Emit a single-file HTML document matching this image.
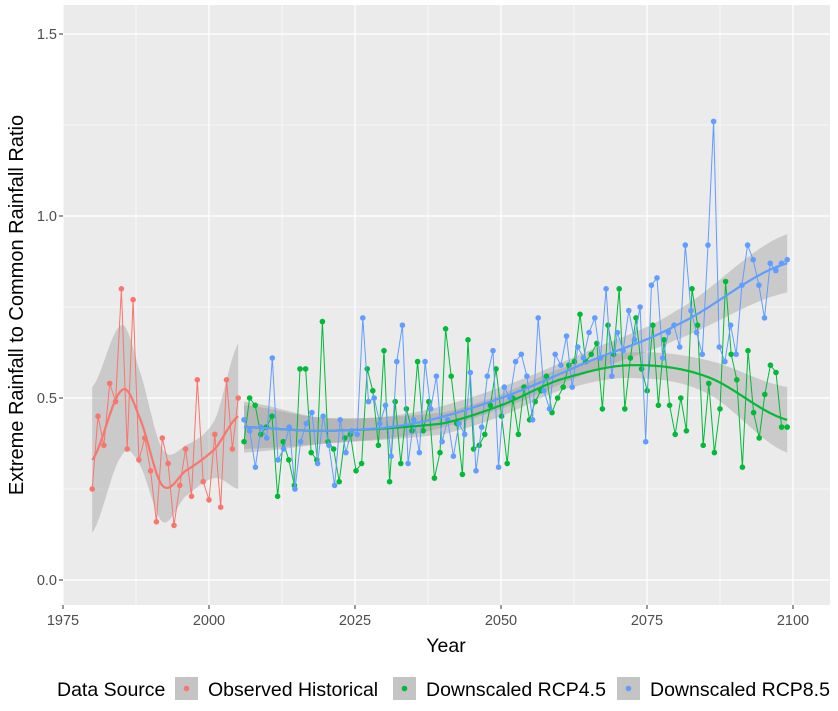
<!DOCTYPE html>
<html><head><meta charset="utf-8"><style>
body{margin:0;background:#fff;font-family:"Liberation Sans",Arial,sans-serif}
</style></head><body>
<svg id="s" width="838" height="706" xmlns="http://www.w3.org/2000/svg" font-family="Liberation Sans, Arial, sans-serif"></svg>
<script>
const S=document.getElementById('s');let h='';
const L=63,R=830,T=5,B=605;
const X=y=>63+(y-1975)*5.84, Y=v=>580-v*364;
h+=`<rect x="${L}" y="${T}" width="${R-L}" height="${B-T}" fill="#ebebeb"/>`;
for(let v=0.25;v<1.6;v+=0.5)h+=`<line x1="${L}" x2="${R}" y1="${Y(v)}" y2="${Y(v)}" stroke="#fff" stroke-width="0.6"/>`;
for(let y=1987.5;y<2100;y+=25)h+=`<line y1="${T}" y2="${B}" x1="${X(y)}" x2="${X(y)}" stroke="#fff" stroke-width="0.6"/>`;
for(let v=0;v<1.6;v+=0.5)h+=`<line x1="${L}" x2="${R}" y1="${Y(v)}" y2="${Y(v)}" stroke="#fff" stroke-width="1.2"/>`;
for(let y=1975;y<=2100;y+=25)h+=`<line y1="${T}" y2="${B}" x1="${X(y)}" x2="${X(y)}" stroke="#fff" stroke-width="1.2"/>`;
function cr(p0,p1,p2,p3,f){return 0.5*((2*p1)+(-p0+p2)*f+(2*p0-5*p1+4*p2-p3)*f*f+(-p0+3*p1-3*p2+p3)*f*f*f);}
function interp(k,t){for(let i=0;i<k.length-1;i++){if(t<=k[i+1][0]+1e-9){const a=k[Math.max(i-1,0)],b=k[i],c=k[i+1],d=k[Math.min(i+2,k.length-1)];const f=(t-b[0])/(c[0]-b[0]);return [cr(a[1],b[1],c[1],d[1],f),cr(a[2],b[2],c[2],d[2],f)];}}const l=k[k.length-1];return [l[1],l[2]];}
function series(vals,y0,y1,col,smooth){
 let top=[],bot=[],mid=[];
 for(let t=y0;t<=y1+1e-6;t+=0.25){const [m,w]=interp(smooth,t);mid.push(`${X(t).toFixed(1)},${Y(m).toFixed(1)}`);top.push(`${X(t).toFixed(1)},${Y(m+w).toFixed(1)}`);bot.unshift(`${X(t).toFixed(1)},${Y(m-w).toFixed(1)}`);}
 let pts=vals.map((v,i)=>[X(y0+i*(y1-y0)/(vals.length-1)),Y(v)]);
 let o=`<polyline points="${pts.map(p=>p[0].toFixed(1)+','+p[1].toFixed(1)).join(' ')}" fill="none" stroke="${col}" stroke-width="1"/>`;
 pts.forEach(p=>o+=`<circle cx="${p[0].toFixed(1)}" cy="${p[1].toFixed(1)}" r="2.8" fill="${col}"/>`);
 return {rib:`<polygon points="${top.concat(bot).join(' ')}" fill="#999" fill-opacity="0.4"/>`,o,line:`<polyline points="${mid.join(' ')}" fill="none" stroke="${col}" stroke-width="2.2"/>`};
}
const red=[.25,.45,.37,.54,.49,.80,.36,.77,.33,.39,.30,.16,.39,.32,.15,.26,.36,.23,.55,.27,.22,.40,.20,.55,.36,.50];
const grn=[.38,.50,.48,.40,.42,.45,.23,.38,.33,.26,.58,.58,.35,.33,.71,.38,.36,.27,.39,.40,.30,.32,.58,.52,.37,.63,.27,.49,.32,.47,.41,.60,.41,.49,.28,.35,.69,.56,.43,.29,.66,.36,.37,.40,.48,.58,.45,.32,.50,.40,.53,.44,.49,.52,.56,.46,.50,.53,.59,.60,.73,.60,.62,.65,.47,.70,.62,.80,.47,.61,.72,.58,.52,.70,.48,.66,.48,.40,.50,.41,.80,.70,.37,.54,.35,.47,.82,.62,.55,.31,.63,.46,.39,.51,.59,.57,.42,.42];
const blu=[.44,.41,.31,.42,.39,.61,.33,.36,.42,.25,.38,.43,.46,.32,.45,.37,.26,.44,.35,.41,.40,.72,.49,.50,.43,.48,.34,.60,.70,.32,.44,.35,.60,.47,.56,.38,.44,.34,.43,.40,.57,.30,.42,.56,.63,.31,.53,.50,.60,.62,.56,.44,.72,.52,.47,.62,.59,.67,.53,.64,.61,.68,.72,.61,.80,.56,.68,.63,.74,.66,.75,.38,.81,.83,.61,.68,.70,.64,.92,.74,.68,.62,.92,1.26,.64,.60,.70,.62,.81,.92,.88,.81,.72,.87,.85,.87,.88];
const sr=series(red,1980,2005,'#F8766D',[[1980,.33,.2],[1985,.52,.18],[1988,.45,.13],[1992,.26,.1],[1996,.30,.07],[2001,.36,.08],[2005,.45,.2]]);
const sg=series(grn,2006,2099,'#00BA38',[[2006,.42,.06],[2020,.41,.035],[2040,.43,.03],[2050,.48,.03],[2060,.55,.03],[2072,.59,.035],[2085,.56,.045],[2099,.44,.09]]);
const sb=series(blu,2006,2099,'#619CFF',[[2006,.42,.07],[2020,.41,.035],[2035,.43,.03],[2050,.50,.03],[2065,.60,.03],[2080,.70,.04],[2099,.87,.08]]);
h+=sr.rib+sg.rib+sb.rib+sr.o+sg.o+sb.o+sr.line+sg.line+sb.line;
[[0,'0.0'],[.5,'0.5'],[1,'1.0'],[1.5,'1.5']].forEach(([v,t])=>{h+=`<line x1="59" x2="${L}" y1="${Y(v)}" y2="${Y(v)}" stroke="#333"/><text x="57" y="${Y(v)+5}" font-size="14.5" fill="#4d4d4d" text-anchor="end">${t}</text>`;});
for(let y=1975;y<=2100;y+=25)h+=`<line y1="${B}" y2="${B+4}" x1="${X(y)}" x2="${X(y)}" stroke="#333"/><text x="${X(y)}" y="625" font-size="14.5" fill="#4d4d4d" text-anchor="middle">${y}</text>`;
h+=`<text x="446" y="652" font-size="19.5" text-anchor="middle">Year</text>`;
h+=`<text transform="translate(23,305) rotate(-90)" font-size="20" text-anchor="middle">Extreme Rainfall to Common Rainfall Ratio</text>`;
h+=`<text x="57" y="696" font-size="19.5">Data Source</text>`;
[[175,'#F8766D','Observed Historical'],[393,'#00BA38','Downscaled RCP4.5'],[617,'#619CFF','Downscaled RCP8.5']].forEach(([x,c,t])=>{h+=`<rect x="${x}" y="677" width="23" height="23" fill="#c4c4c4"/><circle cx="${x+11.5}" cy="688.5" r="2.8" fill="${c}"/><text x="${x+33}" y="696" font-size="19.5">${t}</text>`;});
S.innerHTML=h;
</script>
</body></html>
